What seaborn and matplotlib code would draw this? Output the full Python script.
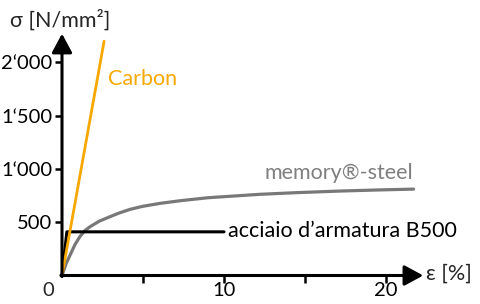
import matplotlib
matplotlib.use("Agg")
import matplotlib.pyplot as plt
import seaborn as sns
import pandas as pd

# strain in %, stress in N/mm2
carbon_eps = [0, 2.6]
carbon_sig = [0, 2200]

b500_eps = [0, 0.3, 10]
b500_sig = [0, 410, 410]

memory_eps = [0, 0.25, 0.5, 0.8, 1.1, 1.4, 1.73, 2.3, 2.96, 3.5, 4.2, 5, 6.05,
              7.3, 9, 12.2, 14.5, 17.2, 19.5, 21.7]
memory_sig = [0, 110, 192, 290, 364, 420, 458, 510, 552, 585, 621, 650, 677,
              702, 730, 762, 778, 793, 803, 811]

y_ticks = [500, 1000, 1500, 2000]
y_labels = ["500", "1\u2018000", "1\u2018500", "2\u2018000"]
x_ticks = [5, 10, 15, 20]
x_labels = ["", "10", "", "20"]

sns.set_theme(style="white")
plt.rcParams["font.family"] = ["Lato", "DejaVu Sans"]

FS = 15.5
TFS = 14.5

fig = plt.figure(figsize=(4.8, 3.04), dpi=100)
ax = fig.add_axes([62 / 480, 28.5 / 304, 372.6 / 480, 245 / 304])
ax.set_xlim(0, 23)
ax.set_ylim(0, 2300)

df_c = pd.DataFrame({"eps": carbon_eps, "sig": carbon_sig})
df_b = pd.DataFrame({"eps": b500_eps, "sig": b500_sig})
df_m = pd.DataFrame({"eps": memory_eps, "sig": memory_sig})

sns.lineplot(data=df_m, x="eps", y="sig", ax=ax, color="#787878", lw=2.3,
             sort=False, clip_on=False)
sns.lineplot(data=df_b, x="eps", y="sig", ax=ax, color="black", lw=2.2,
             sort=False, clip_on=False)
sns.lineplot(data=df_c, x="eps", y="sig", ax=ax, color="#F7A800", lw=2.0,
             sort=False, clip_on=False)

for s in ax.spines.values():
    s.set_visible(False)

# axes with arrow heads
arr = dict(arrowstyle="-|>,head_length=1.15,head_width=0.62", lw=2.2,
           color="black", shrinkA=0, shrinkB=0, mutation_scale=10)
ax.annotate("", xy=(22.3, 0), xytext=(-0.07, 0), arrowprops=arr,
            annotation_clip=False)
ax.annotate("", xy=(0, 2270), xytext=(0, -10), arrowprops=arr,
            annotation_clip=False)

ax.set_xticks(x_ticks)
ax.set_xticklabels(x_labels)
ax.set_yticks(y_ticks)
ax.set_yticklabels(y_labels)
ax.tick_params(axis="both", which="both", length=5, width=1.8, color="black",
               labelsize=TFS, pad=2, labelcolor="black")
ax.tick_params(axis="x", bottom=True, pad=0)
ax.tick_params(axis="y", left=True)
ax.set_xlabel("")
ax.set_ylabel("")
ax.grid(False)

ax.text(-0.85, -65, "0", fontsize=TFS, ha="center", va="top")
ax.text(22.5, 20, "\u03b5 [%]", fontsize=FS, ha="left", va="center",
        clip_on=False)
ax.text(-3.2, 2400, "\u03c3 [N/mm\u00b2]", fontsize=FS, ha="left",
        va="center", clip_on=False)
ax.text(2.84, 1843, "Carbon", fontsize=FS, color="#F7A800", ha="left",
        va="center")
ax.text(21.7, 960, "memory\u00ae-steel", fontsize=FS, color="#7F7F7F",
        ha="right", va="center")
ax.text(10.25, 417, "acciaio d\u2019armatura B500", fontsize=FS,
        color="black", ha="left", va="center")

fig.savefig("out.png", dpi=100)
